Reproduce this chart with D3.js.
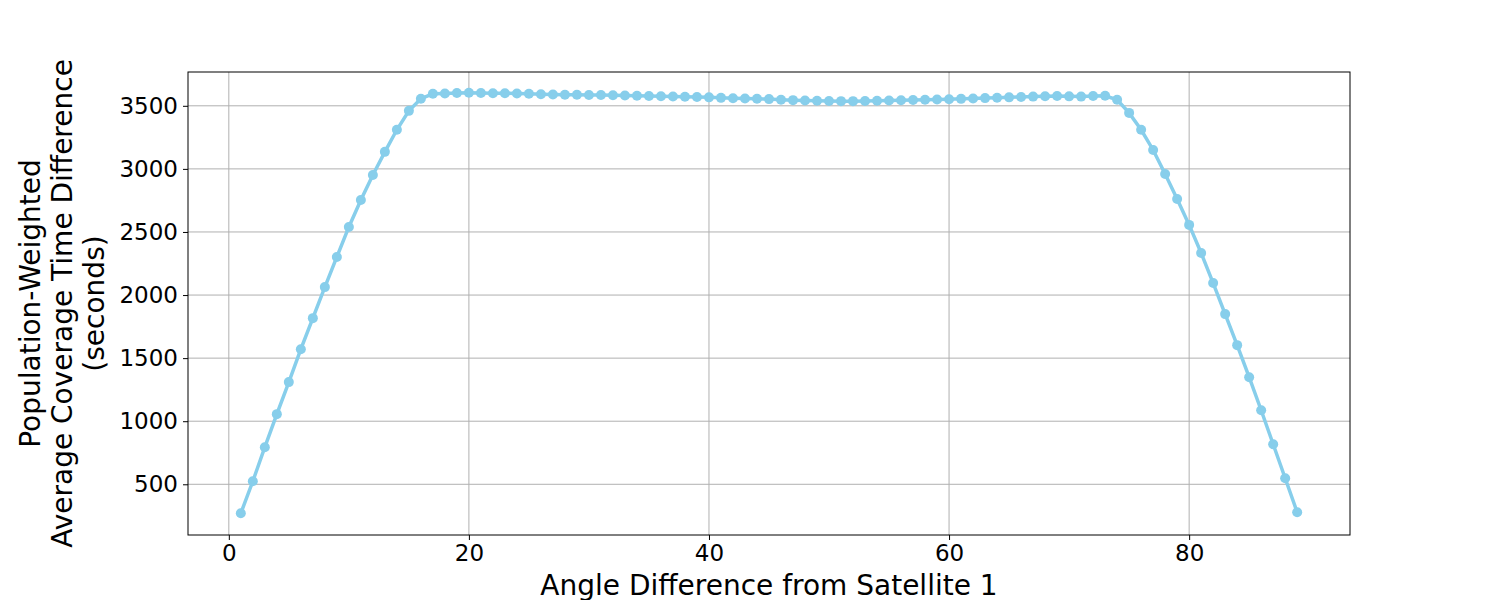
<!DOCTYPE html>
<html><head><meta charset="utf-8">
<script src="https://cdn.jsdelivr.net/npm/d3@7"></script>
<style>body{margin:0;background:#fff}text{font-family:"DejaVu Sans",sans-serif;fill:#000}</style>
</head><body><svg id="c" width="1500" height="600"></svg>
<script>
const angles = d3.range(1, 90);
const coverage = [270,524,794,1056,1310,1571,1817,2063,2302,2540,2754,2952,3135,3310,3460,3556,
3595,3598,3602,3603,3601,3600,3600,3598,3595,3592,3590,3588,3587,3586,3585,3584,3582,3580,3578,3576,
3574,3572,3570,3567,3563,3560,3558,3556,3553,3548,3545,3542,3540,3538,3537,3537,3538,3540,3542,3544,
3546,3548,3550,3552,3555,3558,3561,3564,3567,3570,3573,3576,3578,3575,3573,3578,3580,3548,
3444,3310,3150,2960,2762,2556,2333,2095,1849,1603,1349,1087,817,548,278];
const xTicks = [0,20,40,60,80];
const yTicks = [500,1000,1500,2000,2500,3000,3500];

const svg = d3.select('#c');
const L = 188, R = 1350, T = 72, B = 535;
const x = d3.scaleLinear().domain([-3.4, 93.4]).range([L, R]);
const y = d3.scaleLinear().domain([98, 3768]).range([B, T]);

//grid
svg.append('g').selectAll('line').data(xTicks).enter().append('line')
  .attr('x1', d => x(d)).attr('x2', d => x(d)).attr('y1', T).attr('y2', B)
  .attr('stroke', '#b0b0b0').attr('stroke-width', 1);
svg.append('g').selectAll('line').data(yTicks).enter().append('line')
  .attr('x1', L).attr('x2', R).attr('y1', d => y(d)).attr('y2', d => y(d))
  .attr('stroke', '#b0b0b0').attr('stroke-width', 1);

const xa = svg.append('g').attr('transform', `translate(0,${B})`)
  .call(d3.axisBottom(x).tickValues(xTicks).tickSize(5).tickPadding(5));
const ya = svg.append('g').attr('transform', `translate(${L},0)`)
  .call(d3.axisLeft(y).tickValues(yTicks).tickSize(5).tickPadding(5).tickFormat(d3.format('d')));
[xa, ya].forEach(a => {
  a.select('.domain').remove();
  a.selectAll('text').style('font-size', '23px').style('font-family', '"DejaVu Sans"');
  a.selectAll('line').attr('stroke', '#000');
});
svg.append('rect').attr('x', L).attr('y', T).attr('width', R - L).attr('height', B - T)
  .attr('fill', 'none').attr('stroke', '#000').attr('stroke-width', 1);

const pts = angles.map((a, i) => [a, coverage[i]]);
svg.append('path').datum(pts)
  .attr('d', d3.line().x(d => x(d[0])).y(d => y(d[1])))
  .attr('fill', 'none').attr('stroke', '#87CEEB').attr('stroke-width', 3.5);
svg.append('g').selectAll('circle').data(pts).enter().append('circle')
  .attr('cx', d => x(d[0])).attr('cy', d => y(d[1])).attr('r', 5).attr('fill', '#87CEEB');

svg.append('text').attr('x', (L + R) / 2).attr('y', 595).attr('text-anchor', 'middle')
  .style('font-size', '28px').text('Angle Difference from Satellite 1');
const yl = svg.append('text').attr('transform', `translate(0,${(T + B) / 2}) rotate(-90)`)
  .attr('text-anchor', 'middle').style('font-size', '28px');
yl.append('tspan').attr('x', 0).attr('y', 40).text('Population-Weighted');
yl.append('tspan').attr('x', 0).attr('y', 72).text('Average Coverage Time Difference');
yl.append('tspan').attr('x', 0).attr('y', 104).text('(seconds)');
</script></body></html>
